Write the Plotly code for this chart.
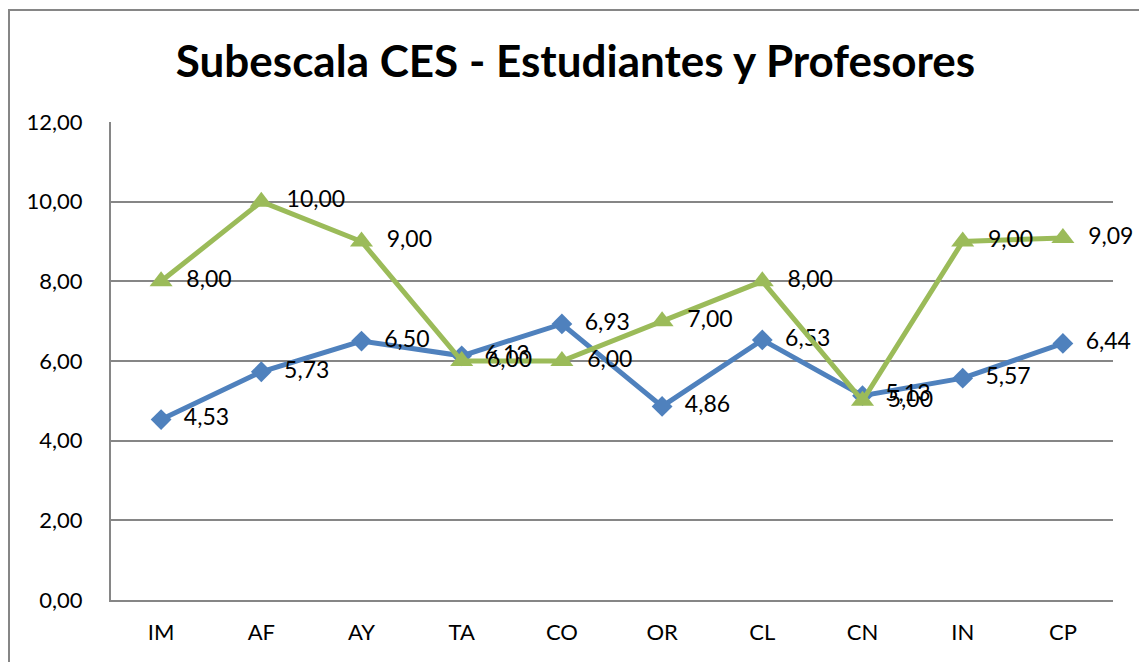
import plotly.graph_objects as go

categories = ["IM", "AF", "AY", "TA", "CO", "OR", "CL", "CN", "IN", "CP"]
estudiantes = [4.53, 5.73, 6.50, 6.13, 6.93, 4.86, 6.53, 5.13, 5.57, 6.44]
profesores = [8.00, 10.00, 9.00, 6.00, 6.00, 7.00, 8.00, 5.00, 9.00, 9.09]
y_ticks = [0, 2, 4, 6, 8, 10, 12]

BLUE = "#4F81BD"
GREEN = "#9BBB59"
FONT = "Lato, 'Open Sans', sans-serif"

def fmt(v):
    return "  " + f"{v:.2f}".replace(".", ",")

fig = go.Figure()
fig.add_trace(go.Scatter(
    x=categories, y=estudiantes, mode="lines+markers+text",
    line=dict(color=BLUE, width=5),
    marker=dict(symbol="diamond", size=16, color=BLUE),
    text=[fmt(v) for v in estudiantes], textposition="middle right",
    textfont=dict(family=FONT, size=23, color="black"),
    cliponaxis=False, name="Estudiantes",
))
fig.add_trace(go.Scatter(
    x=categories, y=profesores, mode="lines+markers+text",
    line=dict(color=GREEN, width=5),
    marker=dict(symbol="triangle-up", size=20, color=GREEN),
    text=[fmt(v) for v in profesores], textposition="middle right",
    textfont=dict(family=FONT, size=23, color="black"),
    cliponaxis=False, name="Profesores",
))

# page body has an 8px margin, so positions are measured minus 8
OFF = 8
W, H = 1147 - OFF, 662 - OFF
L, R, T, B = 111 - OFF, 1113 - OFF, 122 - OFF, 600 - OFF
pw, ph = R - L, B - T

def px_x(x):
    return (x - OFF - L) / pw

def px_y(y):
    return (B - (y - OFF)) / ph

fig.update_layout(
    width=W, height=H,
    margin=dict(l=L, r=W - R, t=T, b=H - B),
    paper_bgcolor="white", plot_bgcolor="white",
    separators=",.",
    showlegend=False,
    title=dict(
        text="<b>Subescala CES - Estudiantes y Profesores</b>",
        x=px_x(575.5), xref="paper", xanchor="center",
        y=1 - (62 - OFF) / H, yanchor="middle",
        font=dict(family=FONT, size=44, color="black"),
    ),
    xaxis=dict(
        type="category", showgrid=False, showline=True, linecolor="#868686", linewidth=2,
        ticks="", ticklabelstandoff=12,
        tickfont=dict(family=FONT, size=22, color="black"),
        range=[-0.5, len(categories) - 0.5], zeroline=False,
    ),
    yaxis=dict(
        range=[0, 12], tickvals=y_ticks, tickformat=".2f",
        showgrid=True, gridcolor="#868686", gridwidth=1.5,
        showline=True, linecolor="#868686", linewidth=2,
        ticks="", ticklabelstandoff=22,
        tickfont=dict(family=FONT, size=22, color="black"), zeroline=False,
    ),
    shapes=[dict(
        type="rect", xref="paper", yref="paper",
        x0=px_x(9), x1=px_x(1141), y0=px_y(680), y1=px_y(10),
        line=dict(color="#868686", width=2), fillcolor="rgba(0,0,0,0)", layer="below",
    )],
)

fig.write_html("out.html")
